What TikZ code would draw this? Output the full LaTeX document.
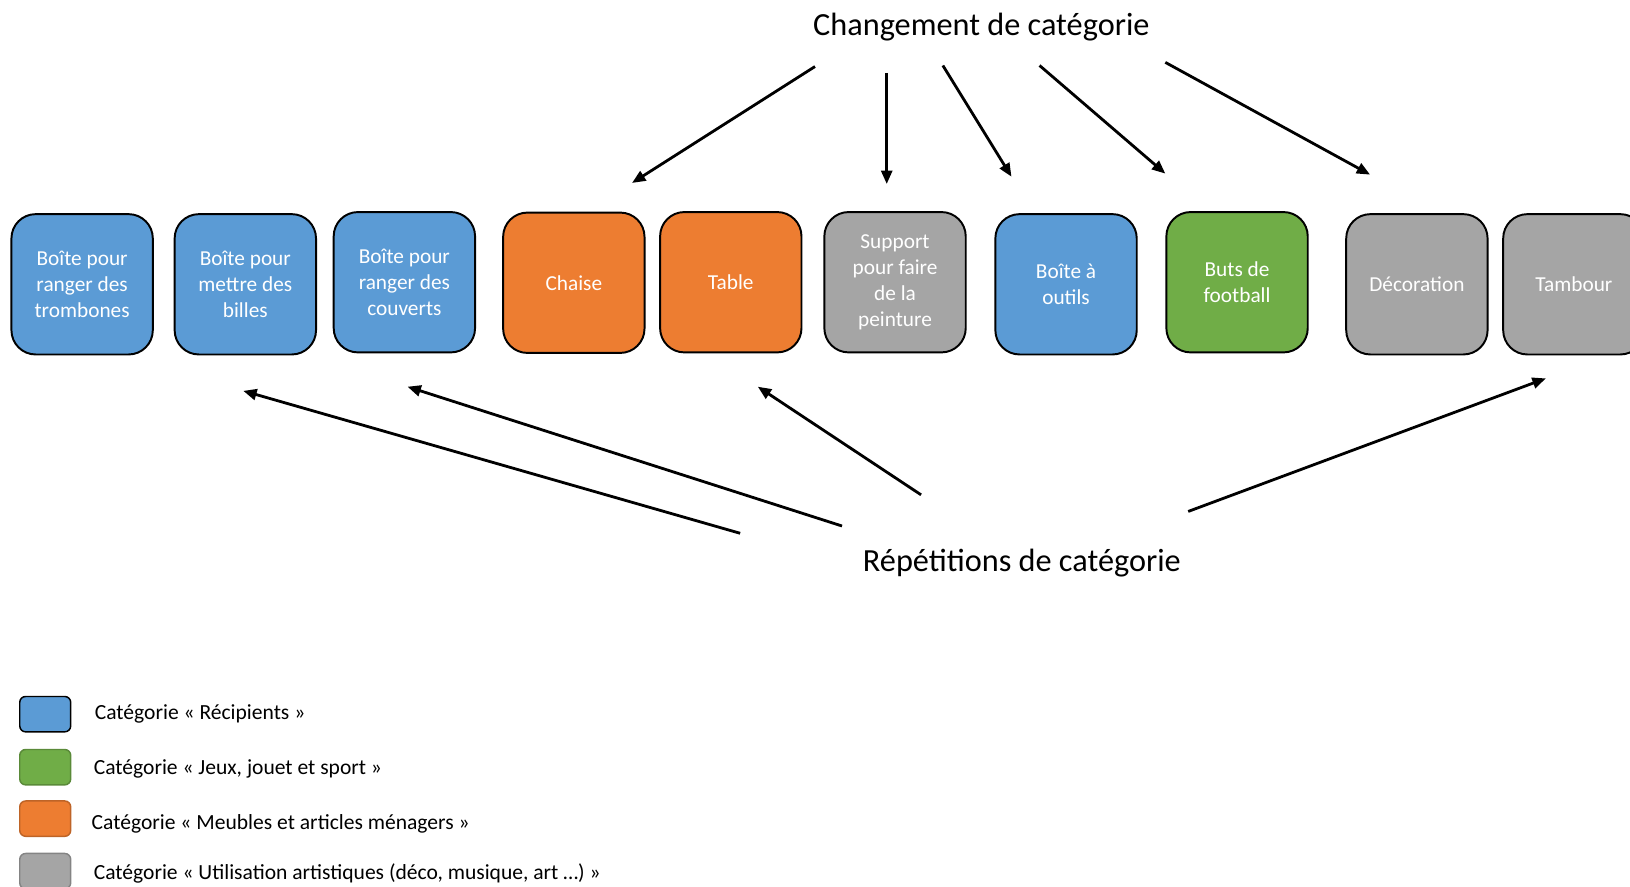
\documentclass[tikz,border=0pt]{standalone}
\usepackage{fontspec}
\setmainfont{Carlito}
\usetikzlibrary{arrows.meta}
\definecolor{cblue}{HTML}{5B9BD5}
\definecolor{corange}{HTML}{ED7D31}
\definecolor{cgreen}{HTML}{70AD47}
\definecolor{cgray}{HTML}{A5A5A5}
\begin{document}
\begin{tikzpicture}[x=0.03cm,y=-0.03cm,
  item/.style={draw=black,line width=1.6pt,rounded corners=0.7cm,minimum width=4.08cm,minimum height=4.05cm,
    inner sep=0pt,text=white,align=center,font=\fontsize{17.5}{21.5}\selectfont},
  leg/.style={line width=1.2pt,rounded corners=0.17cm,minimum width=1.47cm,minimum height=1.02cm,inner sep=0pt},
  legtext/.style={anchor=west,inner sep=0pt,font=\fontsize{17.7}{21}\selectfont},
  title/.style={inner sep=0pt,font=\fontsize{26.5}{31}\selectfont},
  arr/.style={line width=2.3pt,-{Triangle[length=11pt,width=9pt]}}]
\useasboundingbox (0,0) rectangle (1568,853.2);
% boxes
\node[item,fill=cblue] (b1) at (79,273.5) {Boîte pour\\ranger des\\trombones};
\node[item,fill=cblue] (b2) at (236,273.5) {Boîte pour\\mettre des\\billes};
\node[item,fill=cblue] (b3) at (389,271.5) {Boîte pour\\ranger des\\couverts};
\node[item,fill=corange] (b4) at (552,272) {Chaise};
\node[item,fill=corange] (b5) at (703,271.5) {Table};
\node[item,fill=cgray] (b6) at (861,271.5) {Support\\pour faire\\de la\\peinture};
\node[item,fill=cblue] (b7) at (1025.5,273.5) {Boîte à\\outils};
\node[item,fill=cgreen] (b8) at (1190,271.5) {Buts de\\football};
\node[item,fill=cgray] (b9) at (1363,273.5) {Décoration};
\node[item,fill=cgray] (b10) at (1514,273.5) {Tambour};
% titles
\node[title] (top) at (944,26) {Changement de catégorie};
\node[title] (bot) at (983,542) {Répétitions de catégorie};
% arrow ends
\coordinate (t1s) at (784,64);   \coordinate (t1e) at (608,176);
\coordinate (t2s) at (853,70);   \coordinate (t2e) at (853,177);
\coordinate (t3s) at (907,63);   \coordinate (t3e) at (973,170);
\coordinate (t4s) at (1000,63);  \coordinate (t4e) at (1121,167);
\coordinate (t5s) at (1121,60);  \coordinate (t5e) at (1318,168);
\coordinate (r1s) at (712,513);  \coordinate (r1e) at (234,376);
\coordinate (r2s) at (810,506);  \coordinate (r2e) at (392,372);
\coordinate (r3s) at (886,476);  \coordinate (r3e) at (729,372);
\coordinate (r4s) at (1143,492); \coordinate (r4e) at (1487,364);
\draw[arr] (t1s) -- (t1e);
\draw[arr] (t2s) -- (t2e);
\draw[arr] (t3s) -- (t3e);
\draw[arr] (t4s) -- (t4e);
\draw[arr] (t5s) -- (t5e);
\draw[arr] (r1s) -- (r1e);
\draw[arr] (r2s) -- (r2e);
\draw[arr] (r3s) -- (r3e);
\draw[arr] (r4s) -- (r4e);
% legend
\node[leg,draw=black,fill=cblue] (l1) at (43.5,687) {};
\node[leg,draw=cgreen!80!black,fill=cgreen] (l2) at (43.5,738) {};
\node[leg,draw=corange!80!black,fill=corange] (l3) at (43.5,787.5) {};
\node[leg,draw=cgray!80!black,fill=cgray] (l4) at (43.5,838) {};
\node[legtext] (lt1) at (91,687) {Catégorie « Récipients »};
\node[legtext] (lt2) at (90,740) {Catégorie « Jeux, jouet et sport »};
\node[legtext] (lt3) at (88,793) {Catégorie « Meubles et articles ménagers »};
\node[legtext] (lt4) at (90,840) {Catégorie « Utilisation artistiques (déco, musique, art …) »};
\end{tikzpicture}
\end{document}
